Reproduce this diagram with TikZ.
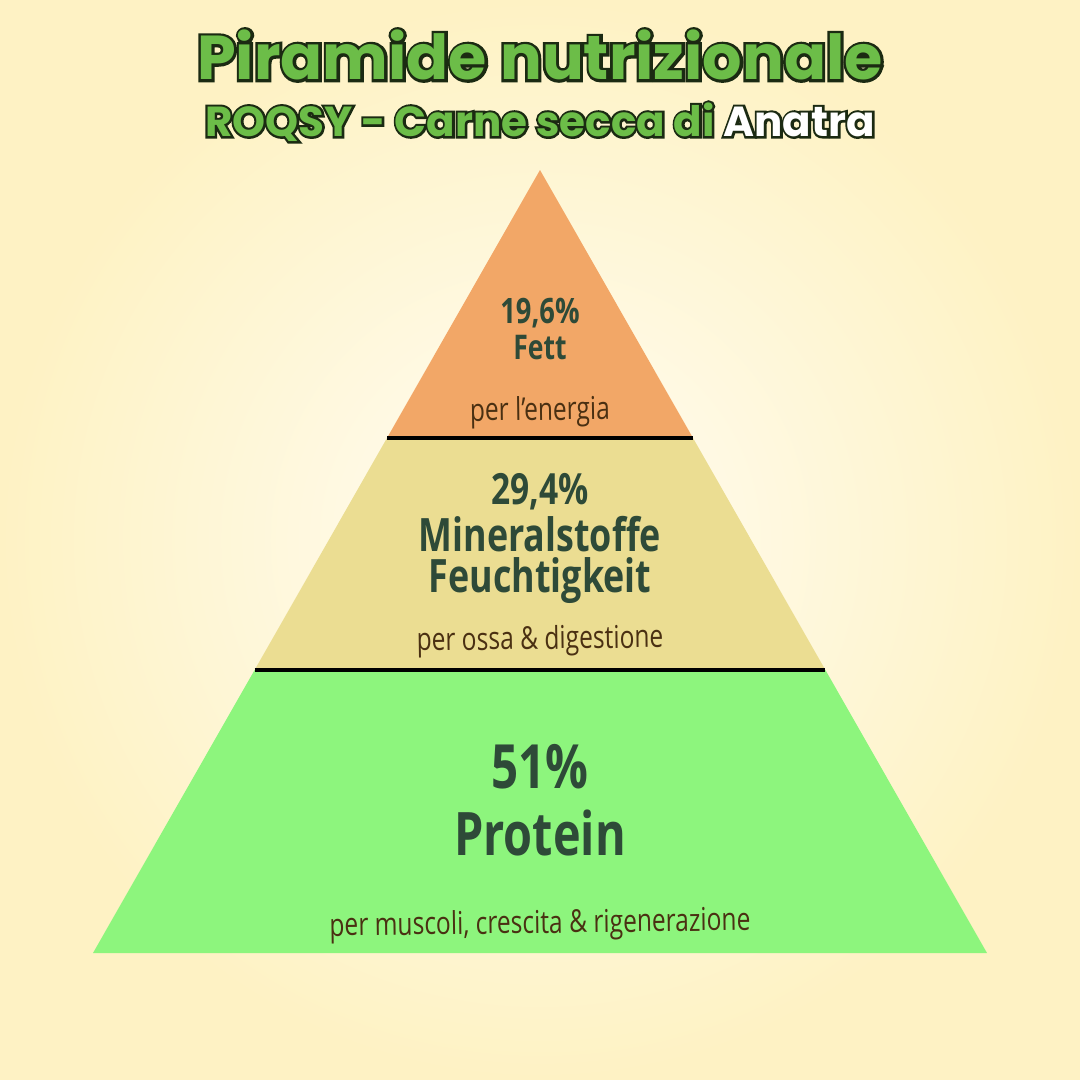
\documentclass[tikz,border=0pt]{standalone}
\usepackage{fontspec}
\setmainfont{Open Sans}
\newfontfamily\condfont{Open Sans}[FakeStretch=0.78]
\newfontfamily\titlefill{Poppins Bold}
\newfontfamily\titleoutlineA{Poppins Bold}[FakeBold=9]
\newfontfamily\titleoutlineB{Poppins Bold}[FakeBold=11]
\definecolor{bgin}{HTML}{FFFDF4}
\definecolor{bgout}{HTML}{FEF2C4}
\definecolor{tierorange}{HTML}{F2A767}
\definecolor{tiertan}{HTML}{EBDD92}
\definecolor{tiergreen}{HTML}{8DF57D}
\definecolor{labeldark}{HTML}{2E4A38}
\definecolor{notebrown}{HTML}{4A3012}
\definecolor{titlegreen}{HTML}{6CBD48}
\definecolor{titleline}{HTML}{1B2A12}
\tikzset{
  tier/.style={draw=none},
  sepline/.style={draw=black,line width=4pt},
  bigtext/.style={text=labeldark,inner sep=0pt,align=center},
  notetext/.style={text=notebrown,font=\condfont\fontsize{31.5}{34}\selectfont,inner sep=0pt,rotate=0.8},
  titletext/.style={inner sep=0pt}
}
\begin{document}
\begin{tikzpicture}[x=1pt,y=-1pt]
\shade[inner color=bgin,outer color=bgout] (0,0) rectangle (1080,1080);
\useasboundingbox (0,0) rectangle (1080,1080);
% pyramid corners
\coordinate (apex) at (540,170);
\coordinate (l1) at (387,438);
\coordinate (r1) at (693,438);
\coordinate (l2) at (254.6,670);
\coordinate (r2) at (825.4,670);
\coordinate (bl) at (93,953);
\coordinate (br) at (987,953);
\fill[tier,tierorange] (apex) -- (l1) -- (r1) -- cycle;
\fill[tier,tiertan] (l1) -- (l2) -- (r2) -- (r1) -- cycle;
\fill[tier,tiergreen] (l2) -- (bl) -- (br) -- (r2) -- cycle;
\draw[sepline] (l1) -- (r1);
\draw[sepline] (l2) -- (r2);
% title: dark outline layer, then green fill layer
\node[titletext,text=titleline,font=\titleoutlineA\fontsize{62}{66}\selectfont] (titleback) at (540,55)
  {Piramide nutrizionale};
\node[titletext,text=titlegreen,font=\titlefill\fontsize{62}{66}\selectfont] (title) at (titleback)
  {Piramide nutrizionale};
\node[titletext,text=titleline,font=\titleoutlineB\fontsize{42}{46}\selectfont] (subtitleback) at (540,122)
  {ROQSY - Carne secca di Anatra};
\node[titletext,text=titlegreen,font=\titlefill\fontsize{42}{46}\selectfont] (subtitle) at (subtitleback)
  {ROQSY - Carne secca di \textcolor{white}{Anatra}};
% top tier
\node[bigtext,font=\condfont\bfseries\fontsize{35}{38}\selectfont] (fatpct) at (540,313) {19,6\%};
\node[bigtext,font=\condfont\bfseries\fontsize{34}{38}\selectfont] (fat) at (540,348) {Fett};
\node[notetext] (fatnote) at (540,412) {per l’energia};
% middle tier
\node[bigtext,font=\condfont\bfseries\fontsize{43}{46}\selectfont] (minpct) at (540,492) {29,4\%};
\node[bigtext,font=\condfont\bfseries\fontsize{46}{50}\selectfont] (min) at (540,534) {Mineralstoffe};
\node[bigtext,font=\condfont\bfseries\fontsize{46}{50}\selectfont] (hum) at (540,581) {Feuchtigkeit};
\node[notetext] (minnote) at (540,641) {per ossa \& digestione};
% bottom tier
\node[bigtext,font=\condfont\bfseries\fontsize{61}{64}\selectfont] (propct) at (540,767) {51\%};
\node[bigtext,font=\condfont\bfseries\fontsize{60}{64}\selectfont] (pro) at (540,833) {Protein};
\node[notetext] (pronote) at (540,925) {per muscoli, crescita \& rigenerazione};
\end{tikzpicture}
\end{document}
